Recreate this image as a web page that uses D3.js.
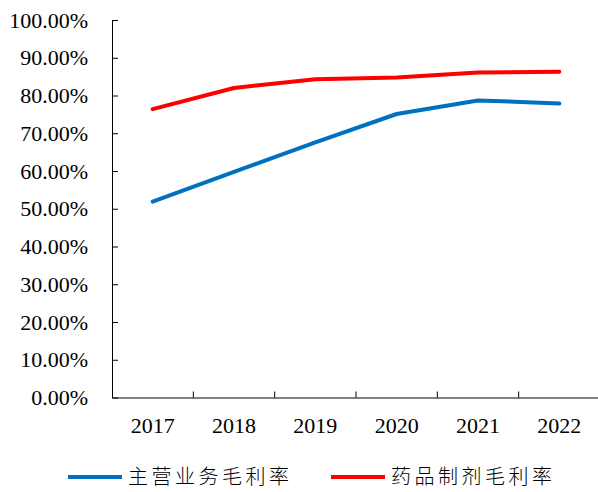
<!DOCTYPE html>
<html>
<head>
<meta charset="utf-8">
<script src="https://cdn.jsdelivr.net/npm/d3@7"></script>
<style>
  body { margin: 0; background: #fff; }
  svg text { fill: #000; }
</style>
</head>
<body>
<div id="chart"></div>
<script>
// Data
const years = ['2017', '2018', '2019', '2020', '2021', '2022'];
const mainMargin = [51.9, 59.8, 67.6, 75.1, 78.7, 77.9];   // 主营业务毛利率
const drugMargin = [76.4, 82.0, 84.3, 84.8, 86.1, 86.3];   // 药品制剂毛利率
const yTicks = [0, 10, 20, 30, 40, 50, 60, 70, 80, 90, 100];
const seriesNames = ['主营业务毛利率', '药品制剂毛利率'];
const seriesColors = ['#0070C0', '#FF0000'];

const width = 598, height = 492;
const margin = { top: 20, right: 0, bottom: 94, left: 112 };

const svg = d3.select('#chart').append('svg')
    .attr('width', width)
    .attr('height', height);

const x = d3.scaleBand()
    .domain(years)
    .range([margin.left, 600]);

const y = d3.scaleLinear()
    .domain([0, 100])
    .range([height - margin.bottom - 0.5, margin.top]);

const serif = '"Liberation Serif", "Times New Roman", serif';

// Y axis
const yAxis = svg.append('g')
    .attr('transform', `translate(${margin.left}, 0)`)
    .call(d3.axisLeft(y).tickValues(yTicks).tickSizeInner(-6).tickSizeOuter(0).tickPadding(24)
        .tickFormat(d => d.toFixed(2) + '%'));
yAxis.selectAll('text')
    .style('font-family', serif)
    .style('font-size', '22px');

// X axis
const xAxis = svg.append('g')
    .attr('transform', `translate(0, ${y(0)})`)
    .call(d3.axisBottom(x).tickSize(0).tickPadding(20));
xAxis.selectAll('text')
    .style('font-family', serif)
    .style('font-size', '22px');

// category boundary ticks (pointing up)
xAxis.selectAll('.bound')
    .data(years.slice(1))
    .enter()
    .append('line')
    .attr('class', 'bound')
    .attr('x1', d => x(d))
    .attr('x2', d => x(d))
    .attr('y1', 0)
    .attr('y2', -6)
    .attr('stroke', '#000');

svg.selectAll('.domain').attr('stroke', '#000');
svg.selectAll('.tick line').attr('stroke', '#000');

// Lines
const line = d3.line()
    .x((d, i) => x(years[i]) + x.bandwidth() / 2)
    .y(d => y(d));

[mainMargin, drugMargin].forEach((vals, i) => {
    svg.append('path')
        .datum(vals)
        .attr('fill', 'none')
        .attr('stroke', seriesColors[i])
        .attr('stroke-width', 4)
        .attr('stroke-linecap', 'round')
        .attr('stroke-linejoin', 'round')
        .attr('d', line);
});

// Legend
const legendX = [68, 331];
const legend = svg.append('g').attr('transform', 'translate(0, 477)');
seriesNames.forEach((name, i) => {
    legend.append('line')
        .attr('x1', legendX[i])
        .attr('x2', legendX[i] + 54)
        .attr('y1', 0)
        .attr('y2', 0)
        .attr('stroke', seriesColors[i])
        .attr('stroke-width', 4);
    legend.append('text')
        .attr('x', legendX[i] + 60)
        .attr('y', 0)
        .attr('dy', '0.35em')
        .style('font-family', '"Noto Sans CJK SC", sans-serif')
        .style('font-size', '20px')
        .style('font-weight', 300)
        .style('letter-spacing', '3.5px')
        .text(name);
});
</script>
</body>
</html>
